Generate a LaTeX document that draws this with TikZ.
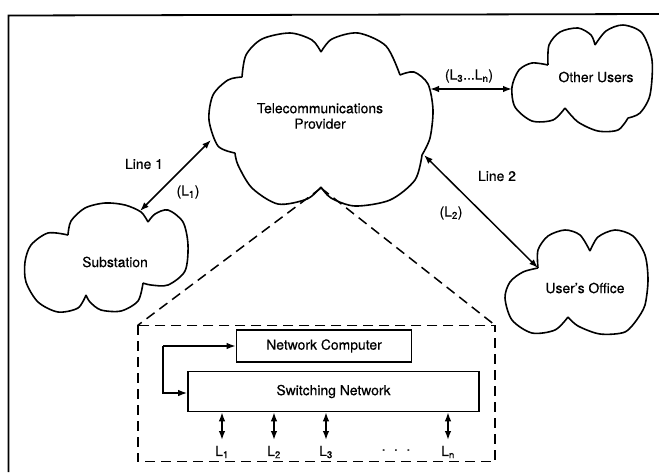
\documentclass[tikz,border=0pt]{standalone}
\usepackage{fontspec}
\setmainfont[FakeBold=0.4]{TeX Gyre Heros}
\usetikzlibrary{arrows.meta}
\begin{document}
\begin{tikzpicture}[x=1pt,y=-1pt,
  txt/.style={font=\fontsize{13.9}{15.5}\selectfont, inner sep=0pt, align=center},
  cloudline/.style={line width=1.6pt, line join=round},
  conn/.style={line width=1.5pt, {Latex[length=9pt,width=6.5pt]}-{Latex[length=9pt,width=6.5pt]}},
  onearrow/.style={line width=1.5pt, -{Latex[length=9pt,width=6.5pt]}},
  boxnode/.style={draw, line width=1.6pt, inner sep=0pt, font=\fontsize{13.9}{15.5}\selectfont},
  zoomline/.style={line width=1.5pt, dash pattern=on 10pt off 6pt}]
\useasboundingbox (0,0) rectangle (659,472);
% outer frame
\coordinate (fbl) at (8.5,472);
\coordinate (ftl) at (8.5,15.5);
\coordinate (ftr) at (659,14);
\draw[line width=1.8pt] (fbl) -- (ftl) -- (ftr);
% Telecommunications Provider cloud
\draw[cloudline]
  plot[smooth] coordinates {(321,52) (332,39) (358,33) (386,46) (400,75)}
  plot[smooth] coordinates {(400,75) (414,72) (428,84) (433,110) (430,138) (422,155)}
  plot[smooth] coordinates {(422,155) (415,180) (390,200) (355,206) (331,198) (321,187)}
  plot[smooth] coordinates {(321,187) (307,199) (278,204) (252,188) (238,165) (235,153)}
  plot[smooth] coordinates {(235,153) (218,146) (209,120) (213,95) (228,80) (242,77)}
  plot[smooth] coordinates {(242,77) (246,55) (262,39) (290,33) (312,40) (321,52)};
\node[txt] (tel) at (320,116) {Telecommunications\\Provider};
% Other Users cloud
\draw[cloudline]
  plot[smooth] coordinates {(548,65) (549,45) (560,32) (578,28) (591,35) (595,45)}
  plot[smooth] coordinates {(595,45) (606,31) (623,25) (642,33) (652,60) (650,95) (640,113) (628,118)}
  plot[smooth] coordinates {(628,118) (618,130) (598,131) (578,122) (565,108)}
  plot[smooth] coordinates {(565,108) (553,120) (532,121) (515,107) (512,87) (519,70) (532,63) (548,65)};
\node[txt] (oth) at (596,77) {Other Users};
% Substation cloud
\draw[cloudline]
  plot[smooth] coordinates {(68,235) (71,221) (85,208) (105,203) (125,205) (141,212) (148,222)}
  plot[smooth] coordinates {(148,222) (155,214) (168,210) (183,222) (188,245) (185,271) (168,285) (151,285) (143,283)}
  plot[smooth] coordinates {(143,283) (138,301) (121,311) (101,310) (90,302) (86,295)}
  plot[smooth] coordinates {(86,295) (78,308) (58,312) (38,302) (26,282) (25,262) (31,245) (48,233) (68,235)};
\node[txt] (sub) at (115,262) {Substation};
% User's Office cloud
\draw[cloudline]
  plot[smooth] coordinates {(538,268) (538,250) (548,236) (565,230) (580,235) (590,251)}
  plot[smooth] coordinates {(590,251) (598,237) (615,230) (633,236) (645,255) (648,280) (645,305) (638,318)}
  plot[smooth] coordinates {(638,318) (625,332) (600,334) (578,326) (568,317)}
  plot[smooth] coordinates {(568,317) (555,330) (532,333) (512,320) (505,298) (510,282) (523,272) (538,268)};
\node[txt] (usr) at (585,288) {User's Office};
% connection points on the clouds
\coordinate (telW) at (211,140);
\coordinate (telE) at (430,89);
\coordinate (telSE) at (424,155);
\coordinate (telS) at (321,188);
\coordinate (othW) at (512,89);
\coordinate (subNE) at (140,211);
\coordinate (usrW) at (538,268);
% connectors between clouds
\draw[conn] (subNE) -- (telW);
\draw[conn] (telE) -- (othW);
\draw[conn] (telSE) -- (usrW);
\node[txt] (l1) at (144,164) {Line 1};
\node[txt] (l1b) at (188,192) {(L\textsubscript{1})};
\node[txt] (l3n) at (469,76) {(L\textsubscript{3}...L\textsubscript{n})};
\node[txt] (l2) at (497,176) {Line 2};
\node[txt] (l2b) at (451,213) {(L\textsubscript{2})};
% zoom box
\node[minimum width=357pt, minimum height=136pt, inner sep=0pt] (zb) at (316.5,393.5) {};
\draw[zoomline] (zb.north west) rectangle (zb.south east);
\draw[zoomline] (telS) -- (zb.north west);
\draw[zoomline] (telS) -- (zb.north east);
% inner boxes
\node[boxnode, minimum width=175pt, minimum height=32pt] (nc) at (324,346) {Network Computer};
\node[boxnode, minimum width=291pt, minimum height=40pt] (sw) at (333.5,391.5) {Switching Network};
\coordinate (fb) at (163,346);
\draw[onearrow] (fb) -- (nc.west);
\draw[onearrow] (fb) |- ([yshift=-1.5pt]sw.west);
% line arrows
\foreach \i/\x/\t in {1/222/L\textsubscript{1},2/274/L\textsubscript{2},3/326/L\textsubscript{3},n/448/L\textsubscript{n}}{
  \coordinate (e\i) at (\x,440);
  \draw[conn] (sw.south -| e\i) -- (e\i);
  \node[txt] (t\i) at (\x,452) {\t};
}
\node[txt] (dots) at (396,450) {.\hspace{8.5pt}.\hspace{8.5pt}.};
\end{tikzpicture}
\end{document}
